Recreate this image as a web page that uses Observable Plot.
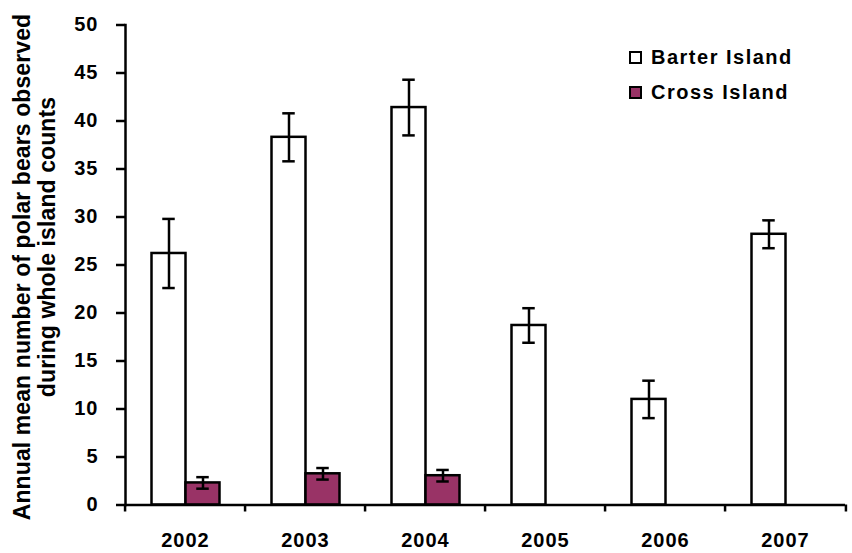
<!DOCTYPE html>
<html>
<head>
<meta charset="utf-8">
<script src="https://cdn.jsdelivr.net/npm/d3@7"></script>
<script src="https://cdn.jsdelivr.net/npm/@observablehq/plot@0.6"></script>
<style>
  html, body { margin: 0; padding: 0; background: #fff; }
  #chart { position: relative; width: 852px; height: 553px; font-family: "Liberation Sans", Arial, sans-serif; font-weight: bold; color: #000; }
  #chart svg { display: block; }
  .ylab { position: absolute; white-space: nowrap; font-size: 23px; letter-spacing: 0.1px; transform: translate(-50%, -50%) rotate(-90deg); line-height: 1; }
  .legend-row { position: absolute; left: 629px; height: 20px; display: flex; align-items: center; font-size: 20px; letter-spacing: 1.5px; line-height: 20px; }
  .swatch { width: 9px; height: 9px; border: 2.5px solid #000; margin-right: 9px; }
</style>
</head>
<body>
<div id="chart"></div>
<script>
// Annual mean polar bear counts with error bars, per island and year
const years = ["2002", "2003", "2004", "2005", "2006", "2007"];
const series = ["Barter Island", "Cross Island"];
const seriesColors = ["#ffffff", "#993366"];

const barterMean = [26.2, 38.3, 41.4, 18.7, 11.0, 28.2];
const barterErr  = [3.6, 2.5, 2.9, 1.8, 1.95, 1.45];
const crossMean  = [2.3, 3.25, 3.05, null, null, null];
const crossErr   = [0.6, 0.6, 0.6, null, null, null];

const yTicks = [0, 5, 10, 15, 20, 25, 30, 35, 40, 45, 50];

const rows = [];
years.forEach((year, i) => {
  rows.push({year, series: series[0], value: barterMean[i], err: barterErr[i]});
  if (crossMean[i] != null) rows.push({year, series: series[1], value: crossMean[i], err: crossErr[i]});
});

const W = 852, H = 553;
const mL = 122.5, mR = 4.3, mT = 24.5, mB = 48.5;
const step = (W - mL - mR) / years.length;
const sw = 2.5;

const plot = Plot.plot({
  width: W,
  height: H,
  marginLeft: mL,
  marginRight: mR,
  marginTop: mT,
  marginBottom: mB,
  style: {fontFamily: "'Liberation Sans', Arial, sans-serif", fontWeight: "bold", fontSize: "20px", letterSpacing: "1px", background: "#fff", color: "#000", overflow: "visible"},
  fx: {domain: years, padding: 0, label: null, axis: null},
  x: {domain: series, paddingInner: 0, paddingOuter: 0.752, axis: null},
  y: {domain: [0, 50], label: null, axis: null},
  color: {domain: series, range: seriesColors},
  marks: [
    Plot.barY(rows, {fx: "year", x: "series", y: "value", fill: "series", stroke: "#000", strokeWidth: sw}),
    Plot.ruleX(rows, {fx: "year", x: "series", y1: d => d.value - d.err, y2: d => d.value + d.err, stroke: "#000", strokeWidth: sw}),
    Plot.tickY(rows, {fx: "year", x: "series", y: d => d.value - d.err, insetLeft: 10.75, insetRight: 10.75, stroke: "#000", strokeWidth: sw}),
    Plot.tickY(rows, {fx: "year", x: "series", y: d => d.value + d.err, insetLeft: 10.75, insetRight: 10.75, stroke: "#000", strokeWidth: sw}),
    Plot.ruleY([0], {stroke: "#000", strokeWidth: sw}),
    Plot.frame({anchor: "left", facetAnchor: "left", stroke: "#000", strokeWidth: sw}),
    // y tick marks, then y tick labels set further out
    Plot.axisY({ticks: yTicks, tickSize: 9, tickFormat: () => "", strokeWidth: sw, label: null}),
    Plot.axisY({ticks: yTicks, tickSize: 0, dx: -18, fontSize: 20, fontWeight: "bold", label: null}),
    Plot.axisFx({anchor: "bottom", tickSize: 0, tickPadding: 28, fontSize: 20, fontWeight: "bold", label: null}),
    Plot.axisFx({anchor: "bottom", tickSize: 7, tickFormat: () => "", strokeWidth: sw, dx: -step / 2, label: null}),
    Plot.axisFx({anchor: "bottom", ticks: ["2007"], tickSize: 7, tickFormat: () => "", strokeWidth: sw, dx: step / 2, label: null})
  ]
});

const chart = document.getElementById("chart");
chart.appendChild(plot);

// Two-line y-axis title
const yLines = [
  {text: "Annual mean number of polar bears observed", cx: 22, cy: 266.5},
  {text: "during whole island counts", cx: 47, cy: 246.5}
];
yLines.forEach(l => {
  const d = document.createElement("div");
  d.className = "ylab";
  d.style.left = l.cx + "px";
  d.style.top = l.cy + "px";
  d.textContent = l.text;
  chart.appendChild(d);
});

// Legend
series.forEach((s, i) => {
  const row = document.createElement("div");
  row.className = "legend-row";
  row.style.top = (47 + i * 35) + "px";
  const sq = document.createElement("div");
  sq.className = "swatch";
  sq.style.background = seriesColors[i];
  const t = document.createElement("span");
  t.textContent = s;
  row.appendChild(sq);
  row.appendChild(t);
  chart.appendChild(row);
});
</script>
</body>
</html>
